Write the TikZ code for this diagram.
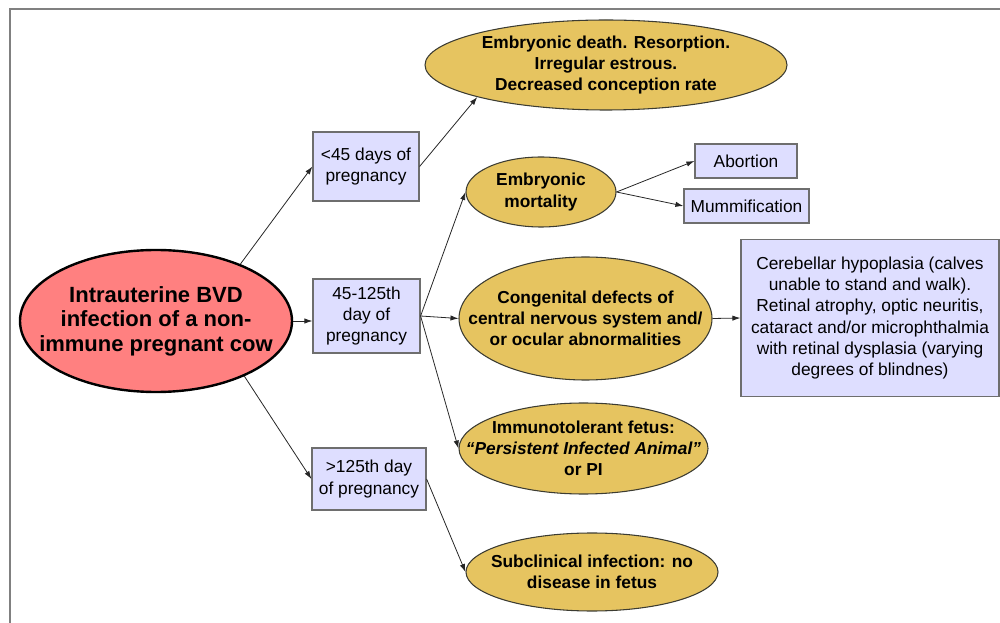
\documentclass[tikz,border=0pt]{standalone}
\usepackage{fontspec}
\setmainfont{Liberation Sans}
\usetikzlibrary{shapes.geometric,arrows.meta}
\definecolor{gold}{RGB}{230,196,96}
\definecolor{lav}{RGB}{222,222,255}
\definecolor{rosy}{RGB}{255,128,128}
\definecolor{boxline}{RGB}{110,110,110}
\definecolor{ellline}{RGB}{60,60,50}
\definecolor{frameline}{RGB}{128,128,128}
\tikzset{
  txt/.style={font=\fontsize{13}{15.8}\selectfont, align=center, inner sep=0pt},
  boldtxt/.style={txt, font=\fontsize{13}{15.8}\selectfont\bfseries},
  boxnode/.style={txt, rectangle, draw=boxline, fill=lav, line width=0.9pt},
  goldell/.style={ellipse, draw=ellline, fill=gold, line width=0.8pt, inner sep=0pt},
  mainell/.style={ellipse, draw=black, fill=rosy, line width=1.8pt, inner sep=0pt},
  maintxt/.style={align=center, inner sep=0pt, font=\fontsize{16.5}{18.4}\selectfont\bfseries},
  conn/.style={draw=black!85, line width=0.6pt, -{Latex[length=6pt,width=4pt]}},
}
\begin{document}
\begin{tikzpicture}[x=0.75pt,y=-0.75pt]
\useasboundingbox (0,0) rectangle (1000,623);
\draw[frameline, line width=1.2pt] (10,623) -- (10,9) -- (1000,9);

\node[mainell, minimum width=272*0.75pt, minimum height=142*0.75pt] (big) at (156,321) {};
\node[maintxt] (bigt) at (big.center) {Intrauterine BVD\\infection of a non-\\immune pregnant cow};

\node[boxnode, minimum width=106*0.75pt, minimum height=69*0.75pt] (b45) at (366,166.5)
  {<45 days of\\pregnancy};
\node[boxnode, minimum width=107*0.75pt, minimum height=74*0.75pt] (b125) at (366.5,316)
  {45-125th\\day of\\pregnancy};
\node[boxnode, minimum width=114*0.75pt, minimum height=62*0.75pt] (b3) at (369,479)
  {>125th day\\of pregnancy};

\node[goldell, minimum width=362*0.75pt, minimum height=90*0.75pt] (top) at (606,65) {};
\node[boldtxt] (topt) at (top.center) {Embryonic death. Resorption.\\Irregular estrous.\\Decreased conception rate};
\node[goldell, minimum width=150*0.75pt, minimum height=70*0.75pt] (emort) at (541,192) {};
\node[boldtxt] (emortt) at (emort.center) {Embryonic\\mortality};
\node[goldell, minimum width=253*0.75pt, minimum height=123*0.75pt] (cong) at (585.5,318.5) {};
\node[boldtxt] (congt) at (cong.center) {Congenital defects of\\central nervous system and/\\or ocular abnormalities};
\node[goldell, minimum width=249*0.75pt, minimum height=91*0.75pt] (immuno) at (583.5,448.5) {};
\node[boldtxt] (immunot) at (immuno.center) {Immunotolerant fetus:\\\textit{“Persistent Infected Animal”}\\or PI};
\node[goldell, minimum width=252*0.75pt, minimum height=78*0.75pt] (sub) at (592,572) {};
\node[boldtxt] (subt) at (sub.center) {Subclinical infection: no\\disease in fetus};

\node[boxnode, minimum width=102*0.75pt, minimum height=34*0.75pt] (abort) at (746,161)
  {Abortion};
\node[boxnode, minimum width=125*0.75pt, minimum height=34*0.75pt] (mumm) at (746.5,206)
  {Mummification};
\node[boxnode, minimum width=258*0.75pt, minimum height=157*0.75pt] (cereb) at (870,318)
  {Cerebellar hypoplasia (calves\\unable to stand and walk).\\Retinal atrophy, optic neuritis,\\cataract and/or microphthalmia\\with retinal dysplasia (varying\\degrees of blindnes)};

\draw[conn] (big.34) -- (b45.west);
\draw[conn] (b45.east) -- (top.194);
\draw[conn] (big.east) -- (big.east -| b125.west);
\draw[conn] (b125.east) -- (emort.west);
\draw[conn] (b125.east) -- (cong.west);
\draw[conn] (b125.east) -- (immuno.west);
\draw[conn] (big.-32) -- (b3.west);
\draw[conn] (b3.east) -- (sub.west);
\draw[conn] (emort.east) -- (abort.west);
\draw[conn] (emort.east) -- (mumm.west);
\draw[conn] (cong.east) -- (cereb.west);
\end{tikzpicture}
\end{document}
